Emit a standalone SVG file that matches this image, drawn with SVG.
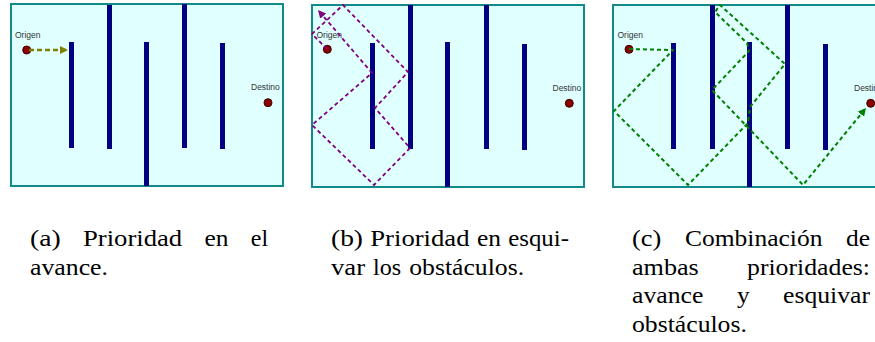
<svg xmlns="http://www.w3.org/2000/svg" width="875" height="342" viewBox="0 0 875 342">
<style>
.bg{fill:#e0ffff;stroke:#138a8a;stroke-width:2}
.bar{fill:#000080}
.dot{fill:#8b0000;stroke:#3a0000;stroke-width:1}
.lbl{font-family:"Liberation Sans",Arial,sans-serif;font-size:8.5px;fill:#333}
.cap{font-family:"Liberation Serif","DejaVu Serif",serif;font-size:24px;fill:#000}
.pa{fill:none;stroke:#808000;stroke-width:2.5;stroke-dasharray:5 3}
.pb{fill:none;stroke:#800080;stroke-width:1.8;stroke-dasharray:4 3;stroke-linejoin:round}
.pc{fill:none;stroke:#008000;stroke-width:2;stroke-dasharray:4 3;stroke-linejoin:round}
</style>
<defs>
<marker id="ha" markerUnits="userSpaceOnUse" markerWidth="10" markerHeight="10" refX="8" refY="4" orient="auto"><path d="M0,0 L8,4 L0,8 z" fill="#808000"/></marker>
<marker id="hb" markerUnits="userSpaceOnUse" markerWidth="10" markerHeight="10" refX="8" refY="4" orient="auto"><path d="M0,0 L8,4 L0,8 z" fill="#800080"/></marker>
<marker id="hc" markerUnits="userSpaceOnUse" markerWidth="10" markerHeight="10" refX="8" refY="4" orient="auto"><path d="M0,0 L8,4 L0,8 z" fill="#008000"/></marker>
</defs>

<!-- Panel a -->
<g id="panel-a">
<rect class="bg" x="11" y="4" width="272" height="182"/>
<g id="a-obstacles">
<rect class="bar" x="69" y="42" width="5" height="106"/>
<rect class="bar" x="107" y="5" width="5" height="144"/>
<rect class="bar" x="144" y="42" width="5" height="144"/>
<rect class="bar" x="182" y="4" width="5" height="144"/>
<rect class="bar" x="220" y="43" width="5" height="106"/>
</g>
<g id="a-origen"><circle class="dot" cx="26.7" cy="50" r="4"/><text class="lbl" x="15" y="37.5">Origen</text></g>
<g id="a-destino"><circle class="dot" cx="268" cy="102.7" r="4"/><text class="lbl" x="251" y="90">Destino</text></g>
</g>

<!-- Panel b -->
<g id="panel-b">
<rect class="bg" x="312" y="5" width="272" height="182"/>
<g id="b-obstacles">
<rect class="bar" x="370" y="43" width="5" height="106"/>
<rect class="bar" x="408" y="5" width="5" height="144"/>
<rect class="bar" x="445" y="42" width="5" height="145"/>
<rect class="bar" x="484" y="5" width="5" height="144"/>
<rect class="bar" x="522" y="44" width="5" height="106"/>
</g>
<g id="b-origen"><circle class="dot" cx="327.3" cy="49.3" r="4"/><text class="lbl" x="316.5" y="37.5">Origen</text></g>
<g id="b-destino"><circle class="dot" cx="569.3" cy="103.3" r="4"/><text class="lbl" x="552.5" y="91">Destino</text></g>
</g>

<!-- Panel c -->
<g id="panel-c">
<rect class="bg" x="613" y="5" width="272" height="182"/>
<g id="c-obstacles">
<rect class="bar" x="671" y="43" width="5" height="106"/>
<rect class="bar" x="710" y="5" width="5" height="144"/>
<rect class="bar" x="747" y="42" width="5" height="145"/>
<rect class="bar" x="785" y="5" width="5" height="144"/>
<rect class="bar" x="823" y="44" width="5" height="106"/>
</g>
<g id="c-origen"><circle class="dot" cx="629" cy="49.3" r="4"/><text class="lbl" x="617.5" y="37.5">Origen</text></g>
<g id="c-destino"><circle class="dot" cx="870.7" cy="103.3" r="4"/><text class="lbl" x="854" y="91">Destino</text></g>
</g>

<!-- Connectors -->
<g id="connectors">
<path class="pa" d="M29,50 L68,50" marker-end="url(#ha)"/>
<path class="pb" d="M327,49 L312,34 L343,5 L408,72 L375,108 L410,148 L374,185 L312,125 L372,73 L318,10" marker-end="url(#hb)"/>
<path class="pc" d="M629,49 L673,50 L614,111 L688,185 L748,123 L750,107 L785,64 L720,5 L715,12 L747,43 L749,51 L712,90 L803,185 L866,108" marker-end="url(#hc)"/>
</g>

<!-- Captions -->
<g id="captions" class="cap" font-family="'Liberation Serif','DejaVu Serif',serif" font-size="24">
<text y="246"><tspan x="30" textLength="30.7" lengthAdjust="spacingAndGlyphs">(a)</tspan><tspan x="83" textLength="99.2" lengthAdjust="spacingAndGlyphs">Prioridad</tspan><tspan x="204.5" textLength="24" lengthAdjust="spacingAndGlyphs">en</tspan><tspan x="250.8" textLength="17.3" lengthAdjust="spacingAndGlyphs">el</tspan></text>
<text y="274.7"><tspan x="30" textLength="78" lengthAdjust="spacingAndGlyphs">avance.</tspan></text>

<text y="246"><tspan x="331" textLength="32" lengthAdjust="spacingAndGlyphs">(b)</tspan><tspan x="370.3" textLength="99.2" lengthAdjust="spacingAndGlyphs">Prioridad</tspan><tspan x="476.9" textLength="24" lengthAdjust="spacingAndGlyphs">en</tspan><tspan x="508.2" textLength="60.8" lengthAdjust="spacingAndGlyphs">esqui-</tspan></text>
<text y="274.7"><tspan x="331" textLength="34.1" lengthAdjust="spacingAndGlyphs">var</tspan><tspan x="373.1" textLength="28.1" lengthAdjust="spacingAndGlyphs">los</tspan><tspan x="409.2" textLength="114.9" lengthAdjust="spacingAndGlyphs">obstáculos.</tspan></text>

<text y="246"><tspan x="632" textLength="29.3" lengthAdjust="spacingAndGlyphs">(c)</tspan><tspan x="685" textLength="137.4" lengthAdjust="spacingAndGlyphs">Combinación</tspan><tspan x="846" textLength="24" lengthAdjust="spacingAndGlyphs">de</tspan></text>
<text y="274.7"><tspan x="632" textLength="66.8" lengthAdjust="spacingAndGlyphs">ambas</tspan><tspan x="747" textLength="123" lengthAdjust="spacingAndGlyphs">prioridades:</tspan></text>
<text y="303.4"><tspan x="632" textLength="71.3" lengthAdjust="spacingAndGlyphs">avance</tspan><tspan x="736.9" textLength="12.7" lengthAdjust="spacingAndGlyphs">y</tspan><tspan x="783.1" textLength="86.9" lengthAdjust="spacingAndGlyphs">esquivar</tspan></text>
<text y="332"><tspan x="632" textLength="114.9" lengthAdjust="spacingAndGlyphs">obstáculos.</tspan></text>
</g>
</svg>
